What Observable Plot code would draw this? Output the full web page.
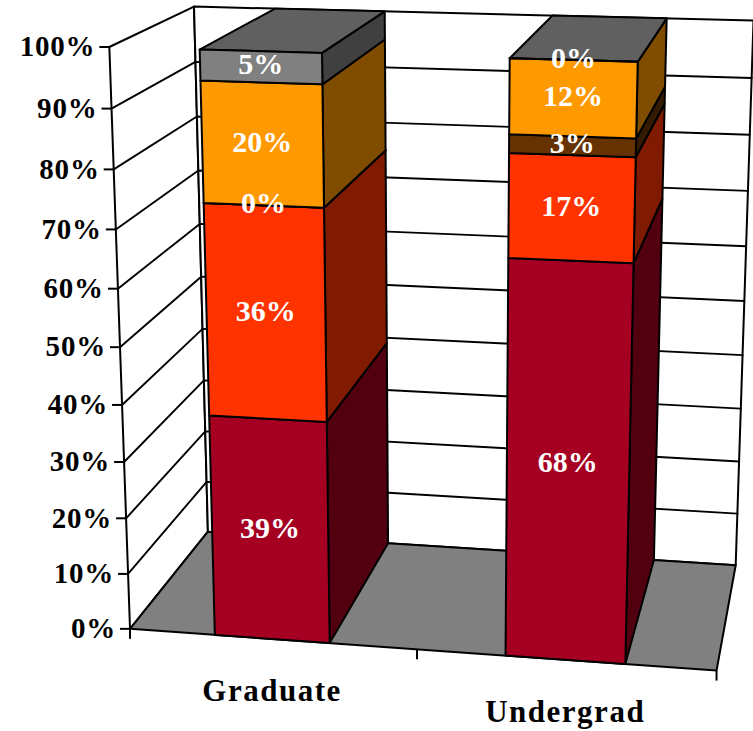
<!DOCTYPE html>
<html><head><meta charset="utf-8">
<script src="https://cdn.jsdelivr.net/npm/d3@7"></script>
<script src="https://cdn.jsdelivr.net/npm/@observablehq/plot@0.6"></script>
<style>
body{margin:0;background:#fff}
svg{display:block}
.axis-label{letter-spacing:.8px}
.category-label{letter-spacing:1.5px}
</style>
</head><body><div id="chart"></div>
<script>
// Stacked shares by degree level, drawn as a 3D column chart.
const categories = ["Graduate", "Undergrad"];
const graduate = [39, 36, 0, 20, 5];
const undergrad = [68, 17, 3, 12, 0];
const tickValues = [0, 10, 20, 30, 40, 50, 60, 70, 80, 90, 100];

const frontColors = ["#a50021", "#ff3300", "#663300", "#ff9900", "#808080"];
const sideColors = ["#520010", "#801a00", "#331a00", "#804d00", "#404040"];
const topColor = "#606060";
const floorColor = "#808080";
const serif = "Liberation Serif, serif";

// Perspective camera: maps (across, up, depth), each 0..1, to page pixels.
const camera = [
  [556.65256, -27.39984, 101.27768, 129.51854],
  [13.79734, -584.73554, -37.19188, 628.34707],
  [-0.0417, -0.06176, 0.1128, 1]
];
const project = (u, v, w) => {
  const [a, b, c] = camera.map(r => r[0] * u + r[1] * v + r[2] * w + r[3]);
  return [a / c, b / c];
};

const up = d3.scaleLinear().domain([0, 100]).range([0, 1]);
const across = d3.scaleBand().domain(categories).range([0, 1]).paddingInner(0.6).paddingOuter(0.3);

// Flat faces are one closed line per id.
const faces = [];
const face = (fill, corners) => {
  const id = faces.length ? faces[faces.length - 1].id + 1 : 0;
  for (const c of corners) {
    const [x, y] = project(...c);
    faces.push({id, fill, x, y});
  }
};

// Walls and floor of the box.
face("#ffffff", [[0, 0, 0], [0, 1, 0], [0, 1, 1], [0, 0, 1]]);
face("#ffffff", [[0, 0, 1], [0, 1, 1], [1, 1, 1], [1, 0, 1]]);
face(floorColor, [[0, 0, 0], [1, 0, 0], [1, 0, 1], [0, 0, 1]]);
const wallFaceCount = faces.length;

// Gridlines run along the side wall, then across the back wall.
const grid = tickValues.slice(1, -1).flatMap(t => [[0, 0], [0, 1], [1, 1]].map(([u, w]) => {
  const [x, y] = project(u, up(t), w);
  return {t, x, y};
}));

const valueTicks = tickValues.map(t => {
  const [x, y] = project(0, up(t), 0);
  return {t, x, y, label: `${t}%`};
});
const baseTicks = [0, 0.5, 1].map(u => {
  const [x, y] = project(u, 0, 0);
  return {x, y};
});

// Columns: right side and top first, then the front segments.
const barLabels = [];
const categoryLabels = [];
categories.forEach((category, i) => {
  const values = i === 0 ? graduate : undergrad;
  const u0 = across(category);
  const u1 = u0 + across.bandwidth();
  const starts = d3.cumsum([0, ...values]);
  values.forEach((value, s) => {
    const v0 = up(starts[s]), v1 = up(starts[s] + value);
    face(sideColors[s], [[u1, v0, 0], [u1, v1, 0], [u1, v1, 1], [u1, v0, 1]]);
  });
  const vTop = up(starts[values.length]);
  face(topColor, [[u0, vTop, 0], [u1, vTop, 0], [u1, vTop, 1], [u0, vTop, 1]]);
  values.forEach((value, s) => {
    const v0 = up(starts[s]), v1 = up(starts[s] + value);
    face(frontColors[s], [[u0, v0, 0], [u1, v0, 0], [u1, v1, 0], [u0, v1, 0]]);
    const [x, y] = project((u0 + u1) / 2, (v0 + v1) / 2, 0);
    barLabels.push({x, y, label: `${value}%`});
  });
  const [x, y] = project((u0 + u1) / 2, 0, 0);
  categoryLabels.push({x, y, label: category});
});

const wallFaces = faces.slice(0, wallFaceCount);
const barFaces = faces.slice(wallFaceCount);
const faceMark = data => Plot.line(data, {
  x: "x", y: "y", z: "id", fill: "fill", stroke: "#000", strokeWidth: 2,
  curve: "linear-closed", strokeLinejoin: "round"
});

const chart = Plot.plot({
  width: 753, height: 731, margin: 0,
  x: {type: "identity", axis: null}, y: {type: "identity", axis: null}, color: {type: "identity"},
  marks: [
    faceMark(wallFaces),
    Plot.line(grid, {x: "x", y: "y", z: "t", stroke: "#000", strokeWidth: 1.9}),
    Plot.link(valueTicks, {x1: "x", y1: "y", x2: d => d.x - 10, y2: "y", stroke: "#000", strokeWidth: 2}),
    Plot.link(baseTicks, {x1: "x", y1: "y", x2: "x", y2: d => d.y + 10, stroke: "#000", strokeWidth: 2}),
    faceMark(barFaces),
    Plot.text(valueTicks, {
      x: d => d.x - 14, y: "y", text: "label", textAnchor: "end", className: "axis-label",
      fontFamily: serif, fontWeight: "bold", fontSize: 29, fill: "#000"
    }),
    Plot.text(barLabels, {
      x: "x", y: "y", dy: -2, text: "label", fontFamily: serif, fontWeight: "bold", fontSize: 30, fill: "#fff"
    }),
    Plot.text(categoryLabels, {
      x: "x", y: "y", dy: 52, text: "label", className: "category-label",
      fontFamily: serif, fontWeight: "bold", fontSize: 31, fill: "#000"
    })
  ]
});
document.getElementById("chart").append(chart);
</script></body></html>
